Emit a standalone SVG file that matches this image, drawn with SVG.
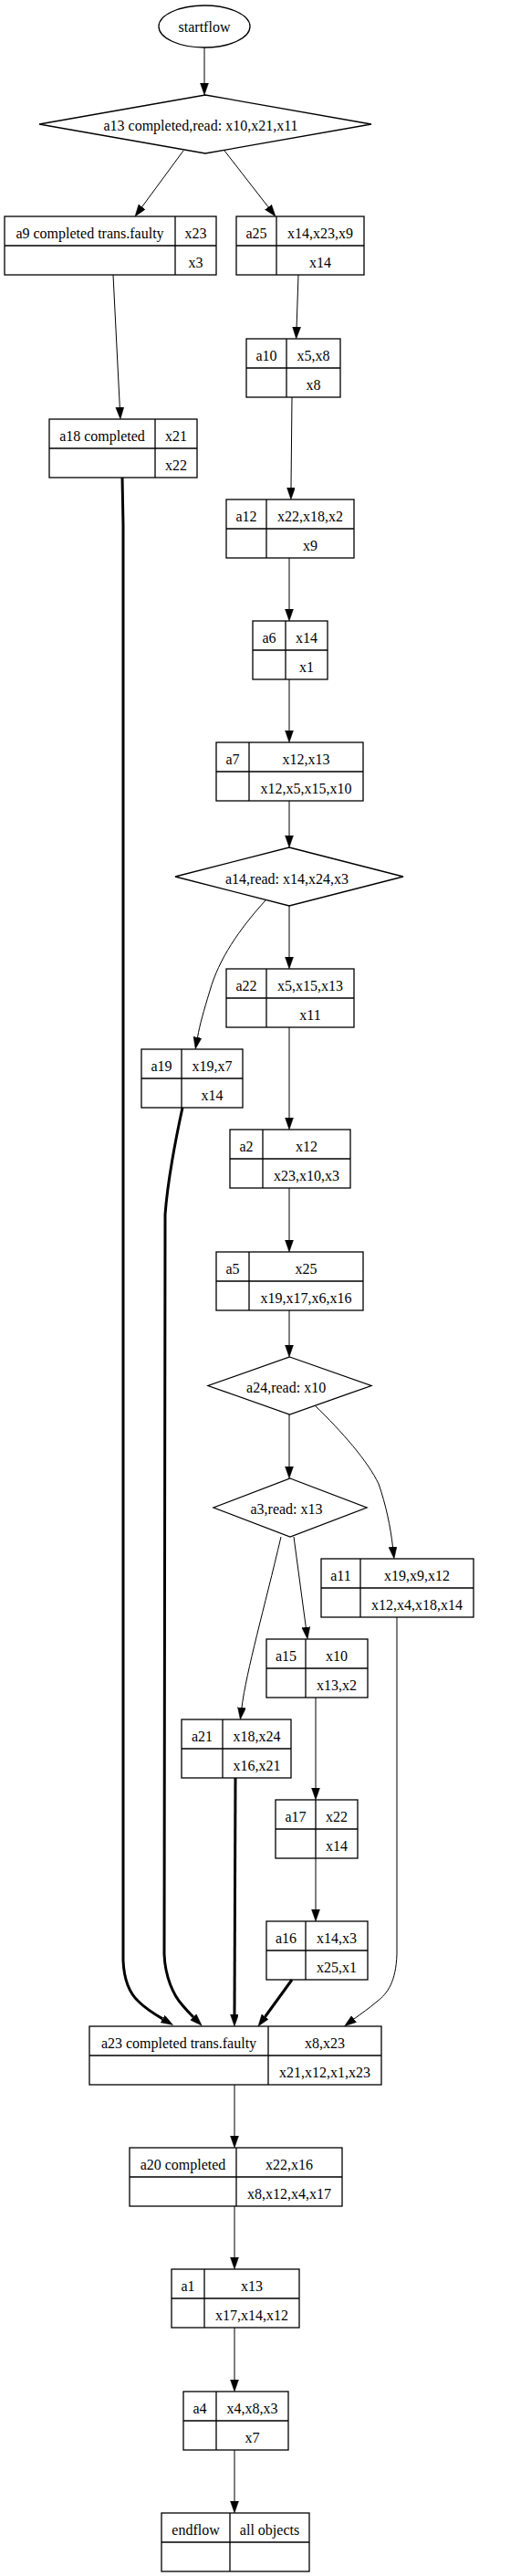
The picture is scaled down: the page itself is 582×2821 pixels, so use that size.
<svg xmlns="http://www.w3.org/2000/svg" width="582" height="2821" viewBox="0 0 582 2821">
<style>
.bg{fill:#ffffff}
.n{fill:none;stroke:#000;stroke-width:1.3}
.t{font-family:"Liberation Serif","Times New Roman",serif;font-size:16px;fill:#000;text-anchor:middle}
.e{fill:none;stroke:#000;stroke-width:1}
.b{fill:none;stroke:#000;stroke-width:3}
</style>
<defs>
<marker id="ah" markerUnits="userSpaceOnUse" markerWidth="14" markerHeight="10" refX="0" refY="4.5" orient="auto" viewBox="0 0 14 10">
<path d="M0,0 L13,4.5 L0,9 z" fill="#000" stroke="#000" stroke-width="0.5"/>
</marker>
</defs>
<rect class="bg" x="0" y="0" width="582" height="2821"/>
<g id="connectors">
<path class="e" d="M224,52 L224,91" marker-end="url(#ah)"/>
<path class="e" d="M201,165 L155.7,226.5" marker-end="url(#ah)"/>
<path class="e" d="M246,165 L294,226.7" marker-end="url(#ah)"/>
<path class="e" d="M124,301 L131.3,446" marker-end="url(#ah)"/>
<path class="e" d="M327,301 L325.1,358" marker-end="url(#ah)"/>
<path class="e" d="M320,435 L319,534" marker-end="url(#ah)"/>
<path class="e" d="M317,611 L317,667" marker-end="url(#ah)"/>
<path class="e" d="M317,744 L317,800" marker-end="url(#ah)"/>
<path class="e" d="M317,877 L317,915" marker-end="url(#ah)"/>
<path class="e" d="M317,992 L317,1048" marker-end="url(#ah)"/>
<path class="e" d="M291,986 C262,1018 240,1050 230,1085 C223,1108 219,1122 216.5,1136" marker-end="url(#ah)"/>
<path class="e" d="M317,1125 L317,1224" marker-end="url(#ah)"/>
<path class="e" d="M317,1301 L317,1358" marker-end="url(#ah)"/>
<path class="e" d="M317,1435 L317,1473" marker-end="url(#ah)"/>
<path class="e" d="M317,1549 L317,1606" marker-end="url(#ah)"/>
<path class="e" d="M345,1539 C375,1568 403,1600 415,1625 C423,1648 428,1672 430.5,1694" marker-end="url(#ah)"/>
<path class="e" d="M322,1683 L335.3,1782" marker-end="url(#ah)"/>
<path class="e" d="M308,1683 C290,1760 270,1830 265,1870" marker-end="url(#ah)"/>
<path class="e" d="M346,1859 L346,1958" marker-end="url(#ah)"/>
<path class="e" d="M346,2035 L346,2091" marker-end="url(#ah)"/>
<path class="b" d="M134,523 L135,575 L135,2147 C136,2170 142,2183 152,2192 C160,2200 170,2206 178.3,2210.9" marker-end="url(#ah)"/>
<path class="b" d="M200,1213 C192,1250 184,1290 181,1330 L180,2140 C181,2165 190,2185 200,2196 C205,2202 208,2205 212,2209" marker-end="url(#ah)"/>
<path class="b" d="M258,1947 L257,2206" marker-end="url(#ah)"/>
<path class="b" d="M320,2168 L290.6,2208.5" marker-end="url(#ah)"/>
<path class="e" d="M435,1771 L435,2140 C434,2170 425,2183 413,2192 C405,2199 396,2205 388,2211" marker-end="url(#ah)"/>
<path class="e" d="M257,2283 L257,2339" marker-end="url(#ah)"/>
<path class="e" d="M257,2416 L257,2472" marker-end="url(#ah)"/>
<path class="e" d="M257,2549 L257,2606" marker-end="url(#ah)"/>
<path class="e" d="M257,2683 L257,2739" marker-end="url(#ah)"/>
</g>
<g id="startflow">
<ellipse class="n" cx="224" cy="29" rx="50" ry="23"/>
<text class="t" x="224" y="35">startflow</text>
</g>
<g id="a13">
<polygon class="n" points="225,104 407,136 225,168 43,136"/>
<text class="t" x="220" y="143">a13 completed,read: x10,x21,x11</text>
</g>
<g id="a9">
<rect class="n" x="5" y="237" width="232" height="64"/>
<path class="n" d="M5,269 H237 M192,237 V301"/>
<text class="t" x="98.5" y="261">a9 completed trans.faulty</text>
<text class="t" x="214.5" y="261">x23</text>
<text class="t" x="214.5" y="293">x3</text>
</g>
<g id="a25">
<rect class="n" x="259" y="237" width="140" height="64"/>
<path class="n" d="M259,269 H399 M303,237 V301"/>
<text class="t" x="281" y="261">a25</text>
<text class="t" x="351" y="261">x14,x23,x9</text>
<text class="t" x="351" y="293">x14</text>
</g>
<g id="a10">
<rect class="n" x="270" y="371" width="103" height="64"/>
<path class="n" d="M270,403 H373 M314,371 V435"/>
<text class="t" x="292" y="395">a10</text>
<text class="t" x="343.5" y="395">x5,x8</text>
<text class="t" x="343.5" y="427">x8</text>
</g>
<g id="a18">
<rect class="n" x="54" y="459" width="162" height="64"/>
<path class="n" d="M54,491 H216 M170,459 V523"/>
<text class="t" x="112" y="483">a18 completed</text>
<text class="t" x="193" y="483">x21</text>
<text class="t" x="193" y="515">x22</text>
</g>
<g id="a12">
<rect class="n" x="248" y="547" width="140" height="64"/>
<path class="n" d="M248,579 H388 M292,547 V611"/>
<text class="t" x="270" y="571">a12</text>
<text class="t" x="340" y="571">x22,x18,x2</text>
<text class="t" x="340" y="603">x9</text>
</g>
<g id="a6">
<rect class="n" x="277" y="680" width="82" height="64"/>
<path class="n" d="M277,712 H359 M313,680 V744"/>
<text class="t" x="295" y="704">a6</text>
<text class="t" x="336" y="704">x14</text>
<text class="t" x="336" y="736">x1</text>
</g>
<g id="a7">
<rect class="n" x="237" y="813" width="161" height="64"/>
<path class="n" d="M237,845 H398 M273,813 V877"/>
<text class="t" x="255" y="837">a7</text>
<text class="t" x="335.5" y="837">x12,x13</text>
<text class="t" x="335.5" y="869">x12,x5,x15,x10</text>
</g>
<g id="a14">
<polygon class="n" points="317,928 442,960 317,992 192,960"/>
<text class="t" x="314.5" y="968">a14,read: x14,x24,x3</text>
</g>
<g id="a22">
<rect class="n" x="248" y="1061" width="140" height="64"/>
<path class="n" d="M248,1093 H388 M292,1061 V1125"/>
<text class="t" x="270" y="1085">a22</text>
<text class="t" x="340" y="1085">x5,x15,x13</text>
<text class="t" x="340" y="1117">x11</text>
</g>
<g id="a19">
<rect class="n" x="155" y="1149" width="111" height="64"/>
<path class="n" d="M155,1181 H266 M199,1149 V1213"/>
<text class="t" x="177" y="1173">a19</text>
<text class="t" x="232.5" y="1173">x19,x7</text>
<text class="t" x="232.5" y="1205">x14</text>
</g>
<g id="a2">
<rect class="n" x="252" y="1237" width="132" height="64"/>
<path class="n" d="M252,1269 H384 M288,1237 V1301"/>
<text class="t" x="270" y="1261">a2</text>
<text class="t" x="336" y="1261">x12</text>
<text class="t" x="336" y="1293">x23,x10,x3</text>
</g>
<g id="a5">
<rect class="n" x="237" y="1371" width="161" height="64"/>
<path class="n" d="M237,1403 H398 M273,1371 V1435"/>
<text class="t" x="255" y="1395">a5</text>
<text class="t" x="335.5" y="1395">x25</text>
<text class="t" x="335.5" y="1427">x19,x17,x6,x16</text>
</g>
<g id="a24">
<polygon class="n" points="317.5,1486 407,1517.5 317.5,1549 228,1517.5"/>
<text class="t" x="313.6" y="1525">a24,read: x10</text>
</g>
<g id="a3">
<polygon class="n" points="318,1619 402,1651 318,1683 234,1651"/>
<text class="t" x="314" y="1658">a3,read: x13</text>
</g>
<g id="a11">
<rect class="n" x="352" y="1707" width="167" height="64"/>
<path class="n" d="M352,1739 H519 M395,1707 V1771"/>
<text class="t" x="373.5" y="1731">a11</text>
<text class="t" x="457" y="1731">x19,x9,x12</text>
<text class="t" x="457" y="1763">x12,x4,x18,x14</text>
</g>
<g id="a15">
<rect class="n" x="292" y="1795" width="111" height="64"/>
<path class="n" d="M292,1827 H403 M335,1795 V1859"/>
<text class="t" x="313.5" y="1819">a15</text>
<text class="t" x="369" y="1819">x10</text>
<text class="t" x="369" y="1851">x13,x2</text>
</g>
<g id="a21">
<rect class="n" x="199" y="1883" width="120" height="64"/>
<path class="n" d="M199,1915 H319 M244,1883 V1947"/>
<text class="t" x="221.5" y="1907">a21</text>
<text class="t" x="281.5" y="1907">x18,x24</text>
<text class="t" x="281.5" y="1939">x16,x21</text>
</g>
<g id="a17">
<rect class="n" x="302" y="1971" width="90" height="64"/>
<path class="n" d="M302,2003 H392 M346,1971 V2035"/>
<text class="t" x="324" y="1995">a17</text>
<text class="t" x="369" y="1995">x22</text>
<text class="t" x="369" y="2027">x14</text>
</g>
<g id="a16">
<rect class="n" x="292" y="2104" width="111" height="64"/>
<path class="n" d="M292,2136 H403 M335,2104 V2168"/>
<text class="t" x="313.5" y="2128">a16</text>
<text class="t" x="369" y="2128">x14,x3</text>
<text class="t" x="369" y="2160">x25,x1</text>
</g>
<g id="a23">
<rect class="n" x="98" y="2219" width="320" height="64"/>
<path class="n" d="M98,2251 H418 M294,2219 V2283"/>
<text class="t" x="196" y="2243">a23 completed trans.faulty</text>
<text class="t" x="356" y="2243">x8,x23</text>
<text class="t" x="356" y="2275">x21,x12,x1,x23</text>
</g>
<g id="a20">
<rect class="n" x="142" y="2352" width="233" height="64"/>
<path class="n" d="M142,2384 H375 M259,2352 V2416"/>
<text class="t" x="200.5" y="2376">a20 completed</text>
<text class="t" x="317" y="2376">x22,x16</text>
<text class="t" x="317" y="2408">x8,x12,x4,x17</text>
</g>
<g id="a1">
<rect class="n" x="188" y="2485" width="140" height="64"/>
<path class="n" d="M188,2517 H328 M224,2485 V2549"/>
<text class="t" x="206" y="2509">a1</text>
<text class="t" x="276" y="2509">x13</text>
<text class="t" x="276" y="2541">x17,x14,x12</text>
</g>
<g id="a4">
<rect class="n" x="201" y="2619" width="115" height="64"/>
<path class="n" d="M201,2651 H316 M237,2619 V2683"/>
<text class="t" x="219" y="2643">a4</text>
<text class="t" x="276.5" y="2643">x4,x8,x3</text>
<text class="t" x="276.5" y="2675">x7</text>
</g>
<g id="endflow">
<rect class="n" x="177" y="2752" width="162" height="64"/>
<path class="n" d="M177,2784 H339 M252,2752 V2816"/>
<text class="t" x="214.5" y="2776">endflow</text>
<text class="t" x="295.5" y="2776">all objects</text>
</g>
</svg>
